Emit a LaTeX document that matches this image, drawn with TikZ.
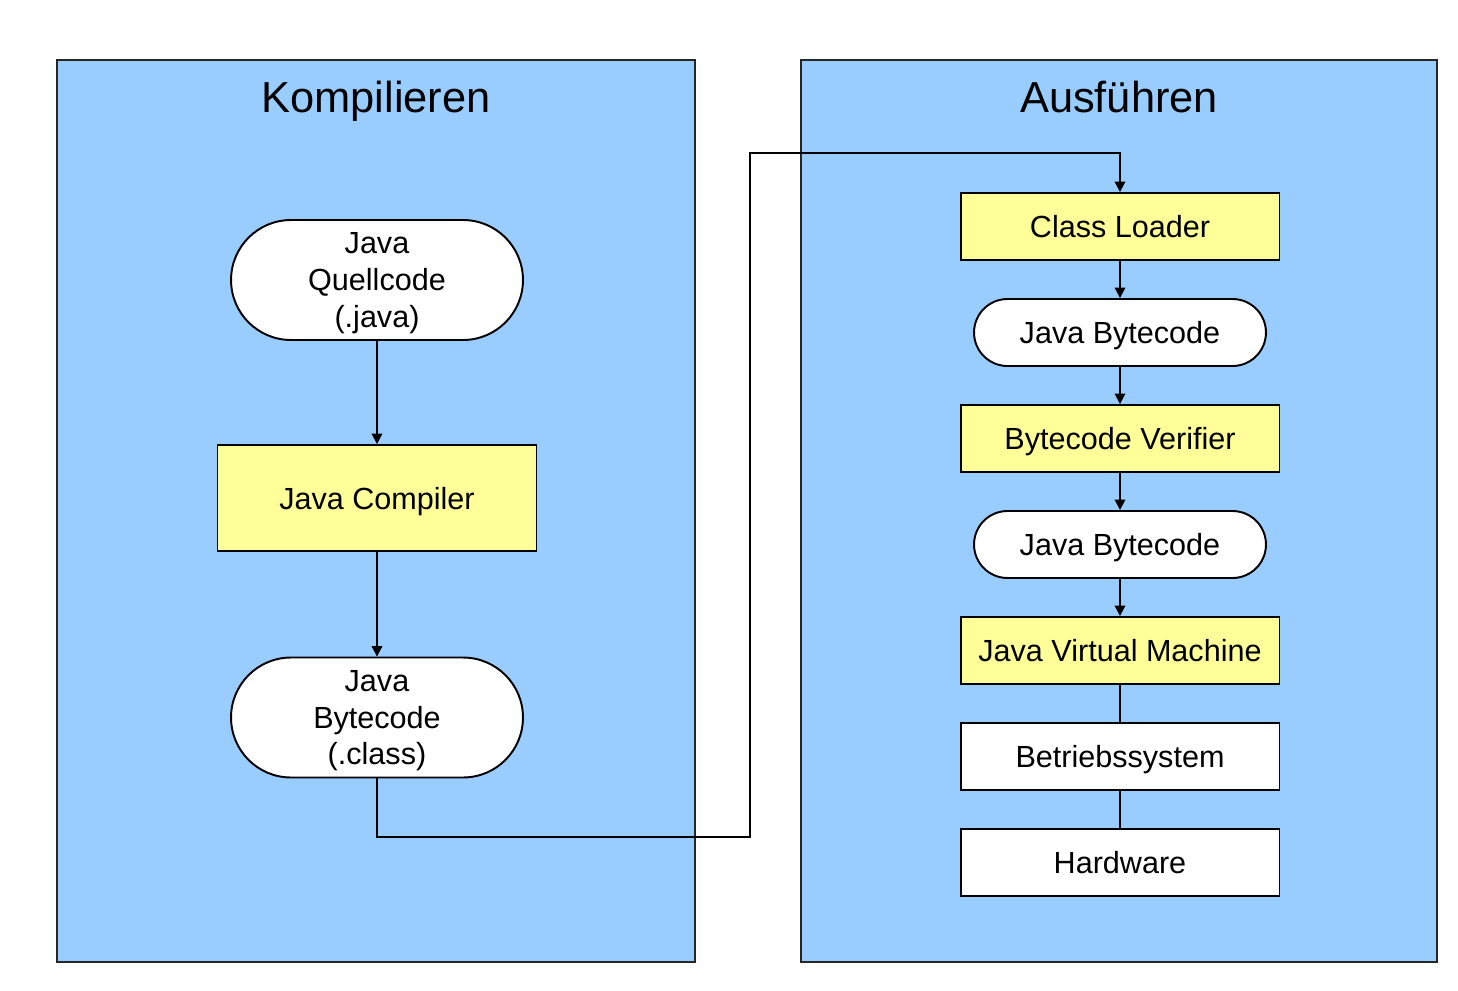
\documentclass[tikz,border=0pt]{standalone}
\usepackage{fontspec}
\setmainfont{Liberation Sans}
\usetikzlibrary{arrows.meta}
\definecolor{panelblue}{HTML}{99CCFF}
\definecolor{boxyellow}{HTML}{FFFF99}
\tikzset{
  panel/.style={fill=panelblue, draw=black!85, line width=0.9pt},
  title/.style={font=\fontsize{24.7}{28}\selectfont, inner sep=0pt, text depth=0pt},
  procbox/.style={draw=black, line width=1.1pt, fill=boxyellow, minimum width=6.38cm, minimum height=1.34cm, inner sep=0pt, font=\fontsize{17.4}{21}\selectfont, align=center, text depth=0pt},
  whitebox/.style={procbox, fill=white},
  databox/.style={draw=black, line width=1.1pt, fill=white, rounded corners=0.67cm, minimum width=5.84cm, minimum height=1.34cm, inner sep=0pt, font=\fontsize{17.4}{21}\selectfont, align=center, text depth=0pt},
  bigdata/.style={databox, rounded corners=1.2cm, minimum height=2.4cm},
  flow/.style={line width=1.1pt, -{Triangle[length=6pt,width=6pt]}},
  link/.style={line width=1.1pt}
}
\begin{document}
\begin{tikzpicture}[x=0.02cm, y=-0.02cm]
\useasboundingbox (0,0) rectangle (1458,991);
% panels
\draw[panel] (57,60) rectangle (695,962);
\draw[panel] (801,60) rectangle (1437,962);
\node[title] (t1) at (376,97) {Kompilieren};
\node[title] (t2) at (1119,97) {Ausführen};
% left nodes
\node[bigdata] (src) at (377,280) {Java\\Quellcode\\(.java)};
\node[procbox, minimum height=2.12cm] (comp) at (377,498) {Java Compiler};
\node[bigdata] (bc) at (377,717.5) {Java\\Bytecode\\(.class)};
% right nodes
\node[procbox] (cl) at (1120,226.5) {Class Loader};
\node[databox] (jb1) at (1120,332.5) {Java Bytecode};
\node[procbox] (ver) at (1120,438.5) {Bytecode Verifier};
\node[databox] (jb2) at (1120,544.5) {Java Bytecode};
\node[procbox] (jvm) at (1120,650.5) {Java Virtual Machine};
\node[whitebox] (os) at (1120,756.5) {Betriebssystem};
\node[whitebox] (hw) at (1120,862.5) {Hardware};
% connectors
\draw[flow] (src) -- (comp);
\draw[flow] (comp) -- (bc);
\coordinate (c1) at (377,837);
\coordinate (c2) at (750,837);
\coordinate (c3) at (750,153);
\coordinate (c4) at (1120,153);
\draw[flow] (bc.south) -- (c1) -- (c2) -- (c3) -- (c4) -- (cl.north);
\draw[flow] (cl) -- (jb1);
\draw[flow] (jb1) -- (ver);
\draw[flow] (ver) -- (jb2);
\draw[flow] (jb2) -- (jvm);
\draw[link] (jvm) -- (os);
\draw[link] (os) -- (hw);
\end{tikzpicture}
\end{document}
